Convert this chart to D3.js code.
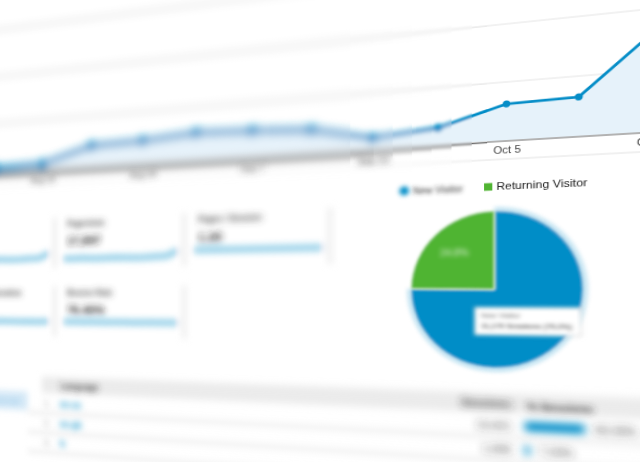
<!DOCTYPE html>
<html>
<head>
<meta charset="utf-8">
<script src="https://cdn.jsdelivr.net/npm/d3@7"></script>
<style>
  html, body { margin: 0; width: 640px; height: 462px; overflow: hidden; background: #fff; }
  #page { position: absolute; left: 0; top: 0; display: block; transform-origin: 0 0; }
</style>
</head>
<body>
<svg id="page"></svg>
<script>
// weekly sessions, main line chart
const weeks = ["Aug 3", "Aug 10", "Aug 17", "Aug 24", "Aug 31", "Sep 7", "Sep 14", "Sep 21", "Sep 28", "Oct 5", "Oct 12", "Oct 19"];
const sessions = [25, 41, 193, 208, 249, 231, 201, 90, 143, 311, 325, 820];
const tickWeeks = ["Aug 10", "Aug 24", "Sep 7", "Sep 21", "Oct 5", "Oct 19"];
const gridValues = [0, 500, 1000, 1500];

// pie
const visitorTypes = ["New Visitor", "Returning Visitor"];
const visitorShares = [75.2, 24.8];
const visitorSessions = ["11,179", "3,687"];

// metric cards
const cardTitles = ["Users", "Pageviews", "Pages / Session", "Avg. Session Duration", "Bounce Rate"];
const cardValues = ["12,311", "17,897", "1.20", "00:00:51", "76.46%"];
const cardSparks = [
  [300, 290, 330, 310, 320, 340, 310, 280, 300, 360, 380, 880],
  [420, 400, 450, 380, 410, 460, 430, 390, 420, 500, 560, 1300],
  [1.21, 1.2, 1.22, 1.19, 1.2, 1.21, 1.2, 1.2, 1.19, 1.2, 1.21, 1.2],
  [51, 50, 52, 49, 51, 50, 52, 51, 50, 51, 50, 52],
  [76.1, 76.5, 75.9, 76.8, 76.2, 76.4, 76.6, 76.0, 76.3, 76.7, 76.5, 76.4]
];

// table
const languages = ["en-us", "en-gb", "fr"];
const langSessions = [13421, 1090, 99];
const langShares = [90.28, 7.33, 0.67];

const blue = "#058dc7", green = "#50b432";

// the page is drawn flat, then tilted with a perspective matrix
const FW = 720, VPY = 298, DEPTH = 0.3, TOP = -95;
const m = [640 / FW, -VPY * DEPTH / FW, 0, -DEPTH / FW,
           0, 1, 0, 0,
           0, 0, 1 + DEPTH, 0,
           0, TOP + VPY * DEPTH, 0, 1 + DEPTH].map(v => v / (1 + DEPTH));

const svg = d3.select("#page")
    .attr("width", 800)
    .attr("height", 620)
    .attr("viewBox", `0 ${TOP} 800 620`)
    .style("transform", `matrix3d(${m.join(",")})`)
    .attr("font-family", "'Liberation Sans', Arial, sans-serif");

const defs = svg.append("defs");
d3.range(1, 13).forEach(k => {
    defs.append("filter")
        .attr("id", "b" + k)
        .attr("filterUnits", "userSpaceOnUse")
        .attr("x", -300).attr("y", -300)
        .attr("width", 1400).attr("height", 1200)
        .append("feGaussianBlur")
        .attr("stdDeviation", k / 2);
});

function blurLevel(sd) {
    return Math.min(6, Math.round(sd * 2) / 2);
}
function blur(sd) {
    const s = blurLevel(sd);
    return s < 0.5 ? null : `url(#b${s * 2})`;
}

// depth of field: sharp near the top right, soft to the left and below
function blurAt(px, py) {
    return Math.max(0, Math.min(5.5, (590 - px) / 30)) + Math.max(0, (py - 200) / 60);
}

const x = d3.scalePoint().domain(weeks).range([-6, 733]);
const y = d3.scaleLinear().domain([0, 1000]).range([132, 10]);

function drawChartMarks(g, sd) {
    g.selectAll("line.grid")
        .data(gridValues.slice(1))
        .join("line")
        .attr("class", "grid")
        .attr("x1", -200).attr("x2", 900)
        .attr("y1", d => y(d)).attr("y2", d => y(d))
        .attr("stroke", "#e4e4e4")
        .attr("stroke-width", 1 + sd * 0.5);

    g.append("path")
        .datum(sessions)
        .attr("fill", "#e6f2fa")
        .attr("d", d3.area()
            .x((d, i) => x(weeks[i]))
            .y0(y(0))
            .y1(d => y(d)));

    g.append("line")
        .attr("x1", -200).attr("x2", 900)
        .attr("y1", y(0) + 1 + sd * 0.8).attr("y2", y(0) + 1 + sd * 0.8)
        .attr("stroke", "#666")
        .attr("stroke-width", 1 + sd * 0.9);

    g.append("line")
        .attr("x1", -200).attr("x2", 900)
        .attr("y1", y(0) + 20).attr("y2", y(0) + 20)
        .attr("stroke", "#e2e2e2");

    g.append("path")
        .datum(sessions)
        .attr("fill", "none")
        .attr("stroke", blue)
        .attr("stroke-width", 2.8 + sd * 0.65)
        .attr("stroke-linejoin", "round")
        .attr("d", d3.line()
            .x((d, i) => x(weeks[i]))
            .y(d => y(d)));

    g.selectAll("circle")
        .data(sessions)
        .join("circle")
        .attr("cx", (d, i) => x(weeks[i]))
        .attr("cy", d => y(d))
        .attr("r", 3.6 + sd * 0.5)
        .attr("fill", blue);
}

// same marks in vertical bands, each band with its own blur
const bandEdges = [-200, 250, 350, 410, 440, 465, 485, 505, 525, 545, 565, 580, 900];
d3.pairs(bandEdges).forEach(([x0, x1], i) => {
    const sd = blurLevel(blurAt((x0 + x1) / 2, 70));
    defs.append("clipPath")
        .attr("id", "band" + i)
        .append("rect")
        .attr("x", x0).attr("y", -200)
        .attr("width", x1 - x0).attr("height", 375);
    const g = svg.append("g")
        .attr("clip-path", `url(#band${i})`)
        .append("g")
        .attr("filter", blur(sd));
    drawChartMarks(g, sd);
});

const axisG = svg.append("g")
    .attr("transform", `translate(0,${y(0)})`)
    .call(d3.axisBottom(x).tickValues(tickWeeks).tickSize(0).tickPadding(6));
axisG.select(".domain").remove();
axisG.attr("font-family", null).attr("font-size", 11);
axisG.selectAll("text")
    .attr("fill", "#444")
    .attr("y", d => 6 + Math.min(5, blurAt(x(d), 140)))
    .attr("filter", d => blur(blurAt(x(d), 140) * 0.8));

// legend
svg.append("circle")
    .attr("cx", 497).attr("cy", 181).attr("r", 5)
    .attr("fill", blue)
    .attr("filter", blur(2.5));
svg.append("text")
    .attr("x", 506).attr("y", 185)
    .attr("font-size", 10)
    .attr("fill", "#333")
    .attr("filter", blur(2.2))
    .text(visitorTypes[0]);
svg.append("rect")
    .attr("x", 577).attr("y", 176.5)
    .attr("width", 8).attr("height", 8)
    .attr("fill", green);
svg.append("text")
    .attr("x", 589).attr("y", 184.5)
    .attr("font-size", 11.5)
    .attr("fill", "#222")
    .text(visitorTypes[1]);

// pie
const R = 83;
const pieData = d3.pie().sort(null).value(d => d)(visitorShares);
const pieG = svg.append("g").attr("transform", "translate(587,289)");
pieG.append("path")
    .attr("d", d3.arc().innerRadius(R - 1).outerRadius(R + 4)(pieData[0]))
    .attr("fill", blue)
    .attr("opacity", 0.25)
    .attr("filter", blur(2));
pieG.selectAll("path.slice")
    .data(pieData)
    .join("path")
    .attr("class", "slice")
    .attr("d", d3.arc().innerRadius(0).outerRadius(R))
    .attr("fill", (d, i) => i === 0 ? blue : green)
    .attr("stroke", "#fff")
    .attr("stroke-width", 0.6)
    .attr("filter", blur(1.5));
const labelArc = d3.arc().innerRadius(R * 0.5).outerRadius(R * 0.85);
pieG.append("text")
    .attr("transform", `translate(${labelArc.centroid(pieData[1])})`)
    .attr("text-anchor", "middle")
    .attr("dy", "0.35em")
    .attr("font-size", 10)
    .attr("fill", "#fff")
    .attr("opacity", 0.8)
    .attr("filter", blur(2.5))
    .text(visitorShares[1].toFixed(1) + "%");

// tooltip over the blue slice
const tip = svg.append("g").attr("filter", blur(2));
tip.append("rect")
    .attr("x", 568).attr("y", 308)
    .attr("width", 100).attr("height", 29)
    .attr("fill", "#fff")
    .attr("stroke", "#ccc");
tip.append("text")
    .attr("x", 574).attr("y", 319)
    .attr("font-size", 7.5)
    .attr("fill", "#555")
    .text(visitorTypes[0]);
tip.append("text")
    .attr("x", 574).attr("y", 330)
    .attr("font-size", 7.5)
    .attr("font-weight", "bold")
    .attr("fill", "#333")
    .text(`${visitorSessions[0]} Sessions (${visitorShares[0]}%)`);

// metric cards
const cards = svg.append("g").attr("filter", blur(4.5));
cardTitles.forEach((title, i) => {
    const col = i < 3 ? i : i - 3;
    const top = i < 3 ? 200 : 287;
    const left = -85 + 170 * col;
    const g = cards.append("g").attr("transform", `translate(${left},${top})`);

    g.append("line")
        .attr("x1", 163).attr("x2", 163)
        .attr("y1", -4).attr("y2", 60)
        .attr("stroke", "#ddd")
        .attr("stroke-width", 3);
    g.append("text")
        .attr("x", 10).attr("y", 8)
        .attr("font-size", 10)
        .attr("font-weight", "bold")
        .attr("fill", "#444")
        .text(title);
    g.append("text")
        .attr("x", 10).attr("y", 31)
        .attr("font-size", 15)
        .attr("font-weight", "bold")
        .attr("fill", "#222")
        .text(cardValues[i]);

    const sx = d3.scalePoint().domain(d3.range(cardSparks[i].length)).range([5, 155]);
    const sy = d3.scaleLinear().domain([0, d3.max(cardSparks[i]) * 1.25]).range([52, 38]);
    g.append("path")
        .datum(cardSparks[i])
        .attr("fill", "none")
        .attr("stroke", blue)
        .attr("stroke-width", 6)
        .attr("stroke-opacity", 0.55)
        .attr("d", d3.line().x((d, j) => sx(j)).y(d => sy(d)));
});

// language table
const table = svg.append("g");
table.append("rect")
    .attr("x", -60).attr("y", 418)
    .attr("width", 100).attr("height", 24)
    .attr("fill", "#d6e9f7")
    .attr("filter", blur(4.5));
table.append("text")
    .attr("x", 30).attr("y", 434)
    .attr("text-anchor", "end")
    .attr("font-size", 11)
    .attr("fill", "#8fc4e6")
    .attr("filter", blur(4.5))
    .text("Language");
table.append("rect")
    .attr("x", 60).attr("y", 398)
    .attr("width", 760).attr("height", 21)
    .attr("fill", "#ebebeb")
    .attr("filter", blur(4));

const headG = table.append("g")
    .attr("font-size", 11)
    .attr("font-weight", "bold")
    .attr("fill", "#333");
headG.append("text").attr("x", 86).attr("y", 413)
    .attr("filter", blur(4)).text("Language");
headG.append("text").attr("x", 603).attr("y", 413)
    .attr("text-anchor", "end")
    .attr("filter", blur(blurAt(580, 410))).text("Sessions");
headG.append("text").attr("x", 618).attr("y", 415)
    .attr("filter", blur(blurAt(650, 410))).text("% Sessions");

const barX = d3.scaleLinear().domain([0, 100]).range([0, 61]);
const rowY = d3.scalePoint().domain(languages).range([432, 482]);

table.selectAll("line.row")
    .data(languages)
    .join("line")
    .attr("class", "row")
    .attr("x1", 40).attr("x2", 820)
    .attr("y1", d => rowY(d) + 12.5).attr("y2", d => rowY(d) + 12.5)
    .attr("stroke", "#e2e2e2")
    .attr("stroke-width", 3)
    .attr("filter", blur(4));

languages.forEach((lang, i) => {
    const cy = rowY(lang);
    const rb = blur(blurAt(610, cy));
    table.append("text")
        .attr("x", 72).attr("y", cy + 4)
        .attr("text-anchor", "end")
        .attr("font-size", 11)
        .attr("fill", "#999")
        .attr("filter", blur(4.5))
        .text(`${i + 1}.`);
    table.append("text")
        .attr("x", 85).attr("y", cy + 4)
        .attr("font-size", 11)
        .attr("font-weight", "bold")
        .attr("fill", blue)
        .attr("filter", blur(4))
        .text(lang);
    table.append("text")
        .attr("x", 603).attr("y", cy + 4)
        .attr("text-anchor", "end")
        .attr("font-size", 11)
        .attr("fill", "#333")
        .attr("filter", rb)
        .text(d3.format(",")(langSessions[i]));
    table.append("rect")
        .attr("x", 616).attr("y", cy - 5)
        .attr("width", barX(langShares[i])).attr("height", 10)
        .attr("fill", blue)
        .attr("filter", rb);
    table.append("text")
        .attr("x", 616 + barX(langShares[i]) + 9).attr("y", cy + 4)
        .attr("font-size", 11)
        .attr("fill", "#333")
        .attr("filter", rb)
        .text(langShares[i].toFixed(2) + "%");
});
</script>
</body>
</html>
